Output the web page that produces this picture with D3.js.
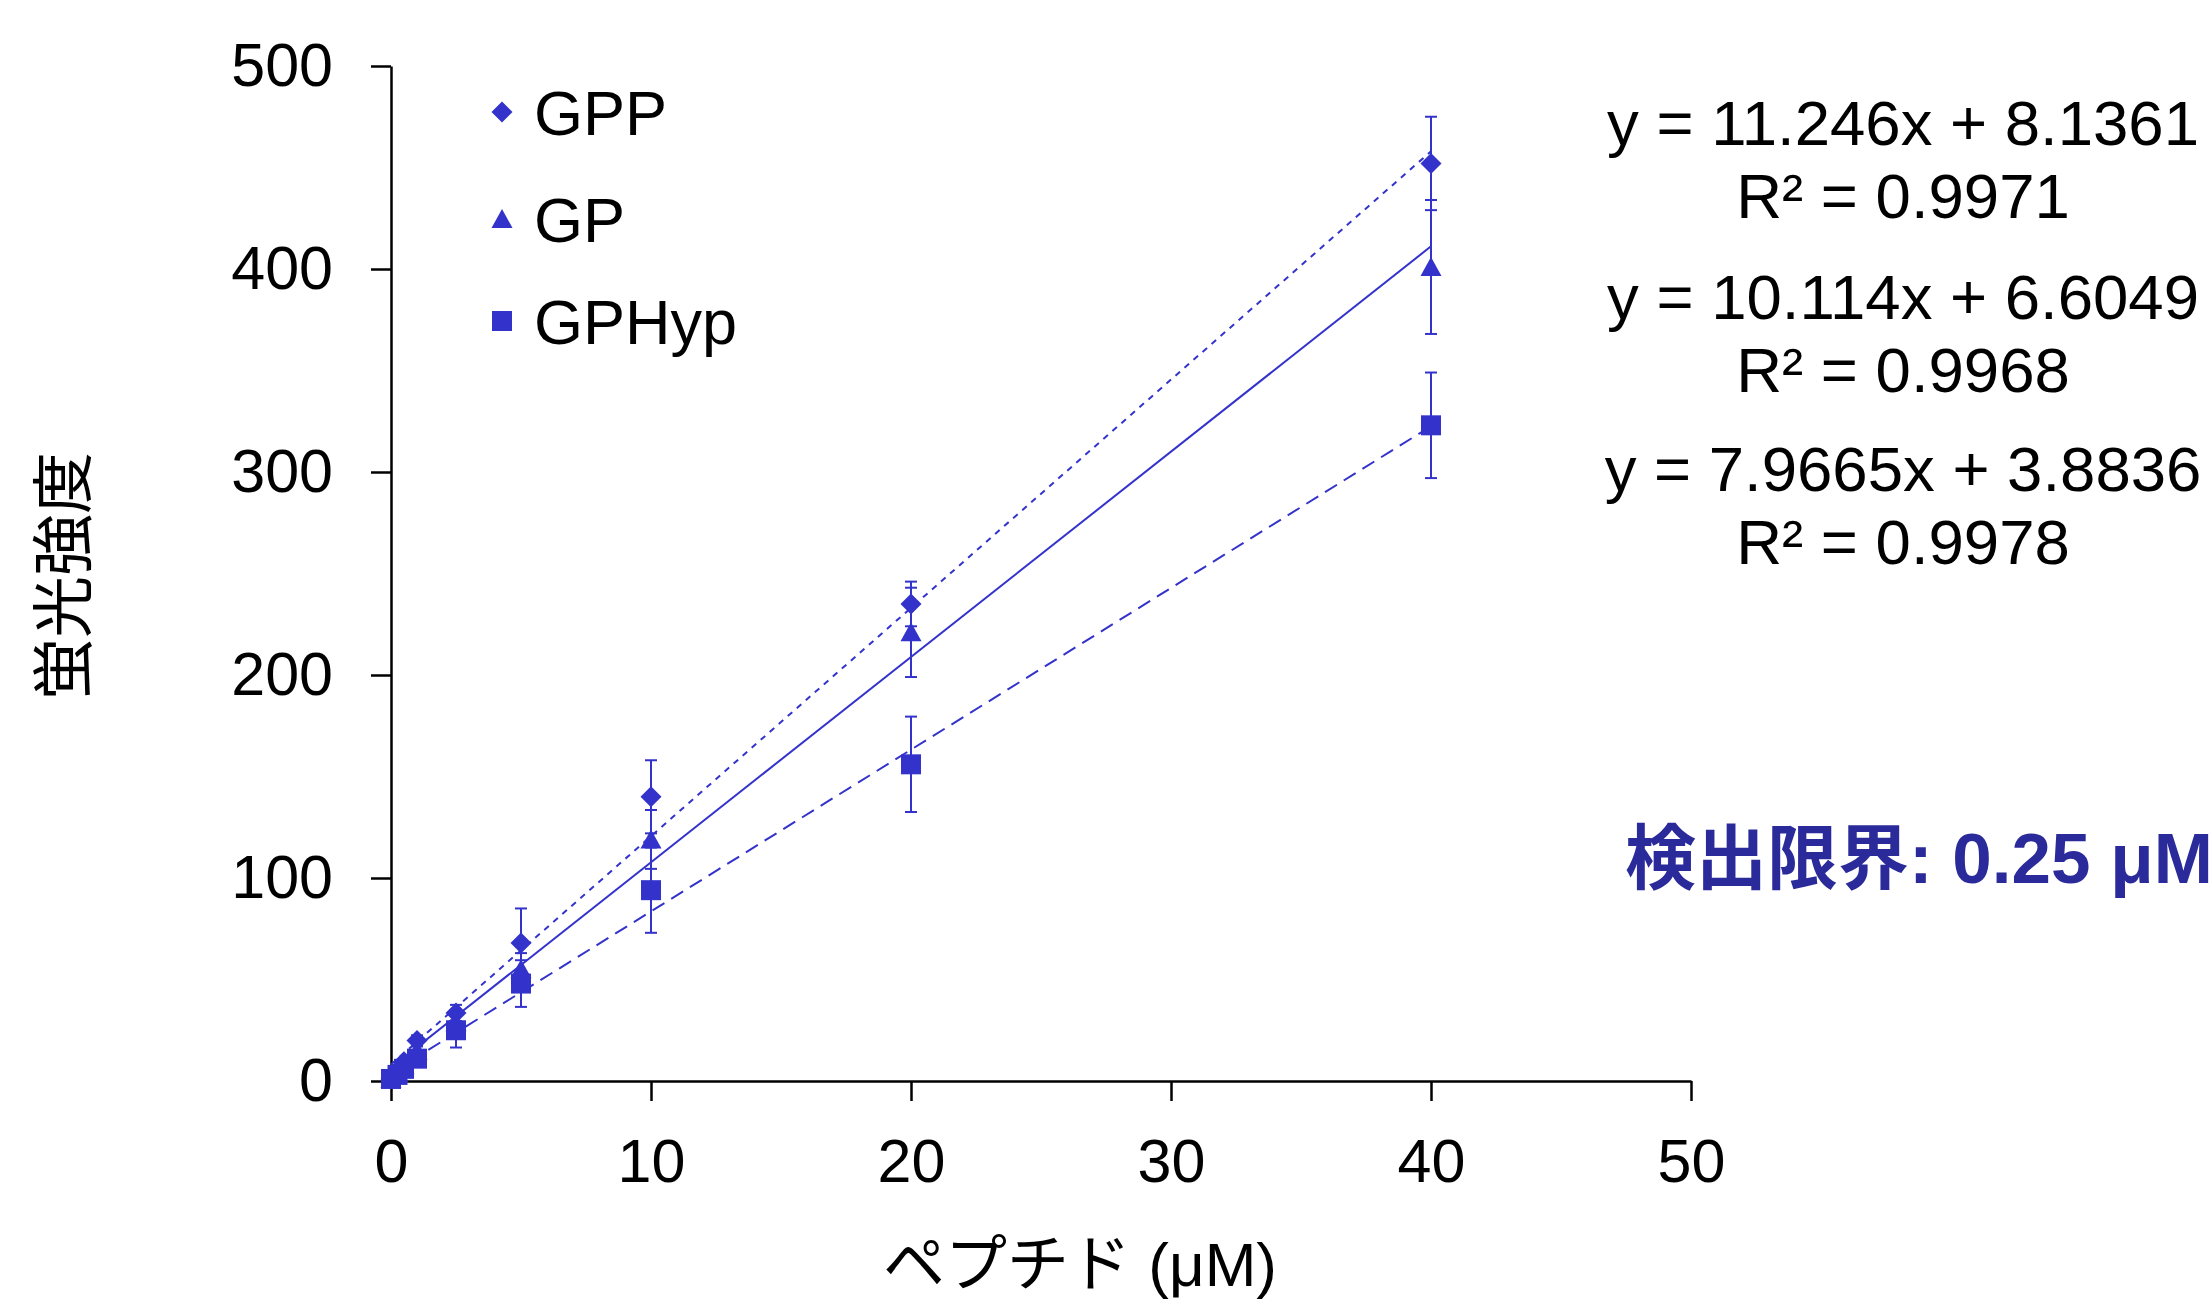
<!DOCTYPE html>
<html>
<head>
<meta charset="utf-8">
<script src="https://cdn.jsdelivr.net/npm/d3@7"></script>
<style>
  html, body { margin: 0; padding: 0; background: #fff; }
  svg { display: block; }
  text { font-family: "Liberation Sans", Arial, "Noto Sans CJK JP", sans-serif; }
</style>
</head>
<body>
<svg id="chart" width="2212" height="1301"></svg>
<script>
// Peptide concentration (µM)
const concentrations = [0, 0.25, 0.5, 1, 2.5, 5, 10, 20, 40];

// Mean fluorescence intensity per peptide
const gppValues   = [1, 5, 9.5, 20, 33.5, 68, 140, 235, 452];
const gpValues    = [1, 4, 8, 15, 29, 55, 119, 221, 401];
const gphypValues = [1, 3, 6, 11, 25, 48, 94, 156, 323];

// Standard deviations
const gppErrors   = [0.5, 1, 1.5, 2.5, 4, 17, 18, 11, 23];
const gpErrors    = [0.5, 1, 1.5, 2, 4, 8, 14.5, 22, 33];
const gphypErrors = [0.5, 1, 1.5, 2, 8.5, 11.5, 21, 23.5, 26];

// Linear fits
const seriesNames = ["GPP", "GP", "GPHyp"];
const slopes      = [11.246, 10.114, 7.9665];
const intercepts  = [8.1361, 6.6049, 3.8836];
const rSquared    = ["0.9971", "0.9968", "0.9978"];

const xTicks = [0, 10, 20, 30, 40, 50];
const yTicks = [0, 100, 200, 300, 400, 500];

const xLabel = "ペプチド (μM)";
const yLabel = "蛍光強度";
const lodLabel = "検出限界: 0.25 μM";

const seriesValues = [gppValues, gpValues, gphypValues];
const seriesErrors = [gppErrors, gpErrors, gphypErrors];

const markerColor = "#3333cc";
const dashes = ["6,6", null, "14,8"];
const shapes = [
  "M0,-10.5L10.5,0L0,10.5L-10.5,0Z",
  "M0,-10L10.5,9L-10.5,9Z",
  "M-10,-10H10V10H-10Z"
];

const svg = d3.select("#chart");
const x = d3.scaleLinear().domain([0, 50]).range([391, 1691]);
const y = d3.scaleLinear().domain([0, 500]).range([1081, 66]);

// Axes
const yAxis = svg.append("g")
  .attr("transform", `translate(${x(0)},0)`)
  .call(d3.axisLeft(y).tickValues(yTicks).tickSize(20).tickPadding(38).tickSizeOuter(0));
const xAxis = svg.append("g")
  .attr("transform", `translate(0,${y(0)})`)
  .call(d3.axisBottom(x).tickValues(xTicks).tickSize(20).tickPadding(38).tickSizeOuter(0));
[xAxis, yAxis].forEach(a => {
  a.select(".domain").attr("stroke", "#000").attr("stroke-width", 2.5);
  a.selectAll(".tick line").attr("stroke", "#000").attr("stroke-width", 2.5);
  a.selectAll(".tick text")
    .attr("fill", "#000")
    .style("font-size", "61px")
    .style("font-family", '"Liberation Sans", Arial, sans-serif');
});

// Regression lines from 0 to the highest concentration
const xMax = d3.max(concentrations);
const line = d3.line().x(d => x(d[0])).y(d => y(d[1]));
seriesNames.forEach((name, i) => {
  const pts = [0, xMax].map(c => [c, slopes[i] * c + intercepts[i]]);
  svg.append("path")
    .attr("d", line(pts))
    .attr("fill", "none")
    .attr("stroke", markerColor)
    .attr("stroke-width", 2)
    .attr("stroke-dasharray", dashes[i]);
});

// Error bars
seriesNames.forEach((name, i) => {
  const g = svg.append("g").attr("stroke", markerColor).attr("stroke-width", 2);
  concentrations.forEach((c, j) => {
    const v = seriesValues[i][j], e = seriesErrors[i][j];
    const cx = x(c);
    g.append("line").attr("x1", cx).attr("x2", cx).attr("y1", y(v - e)).attr("y2", y(v + e));
    [v - e, v + e].forEach(b => {
      g.append("line").attr("x1", cx - 6).attr("x2", cx + 6).attr("y1", y(b)).attr("y2", y(b));
    });
  });
});

// Markers
seriesNames.forEach((name, i) => {
  svg.append("g").selectAll("path")
    .data(concentrations.map((c, j) => [c, seriesValues[i][j]]))
    .join("path")
    .attr("d", shapes[i])
    .attr("transform", d => `translate(${x(d[0])},${y(d[1])})`)
    .attr("fill", markerColor);
});

// Legend
const legendY = [112, 219, 321];
seriesNames.forEach((name, i) => {
  svg.append("path")
    .attr("d", shapes[i])
    .attr("transform", `translate(502,${legendY[i]})`)
    .attr("fill", markerColor);
  svg.append("text")
    .attr("x", 534)
    .attr("y", legendY[i] + 23)
    .style("font-size", "63px")
    .attr("fill", "#000")
    .text(name);
});

// Fit equations
const eqBase = [145, 319, 491];
seriesNames.forEach((name, i) => {
  svg.append("text")
    .attr("x", 1903).attr("y", eqBase[i])
    .attr("text-anchor", "middle")
    .style("font-size", "63.5px")
    .text(`y = ${slopes[i]}x + ${intercepts[i]}`);
  svg.append("text")
    .attr("x", 1903).attr("y", eqBase[i] + 73)
    .attr("text-anchor", "middle")
    .style("font-size", "63.5px")
    .text(`R² = ${rSquared[i]}`);
});

// Detection limit
svg.append("text")
  .attr("x", 1625).attr("y", 883)
  .style("font-size", "71px")
  .style("font-weight", "bold")
  .attr("fill", "#2a2a9a")
  .text(lodLabel);

// Axis titles
svg.append("text")
  .attr("x", 1080).attr("y", 1286)
  .attr("text-anchor", "middle")
  .style("font-size", "62px")
  .text(xLabel);
svg.append("text")
  .attr("transform", "translate(86,576) rotate(-90)")
  .attr("text-anchor", "middle")
  .style("font-size", "62px")
  .text(yLabel);
</script>
</body>
</html>
